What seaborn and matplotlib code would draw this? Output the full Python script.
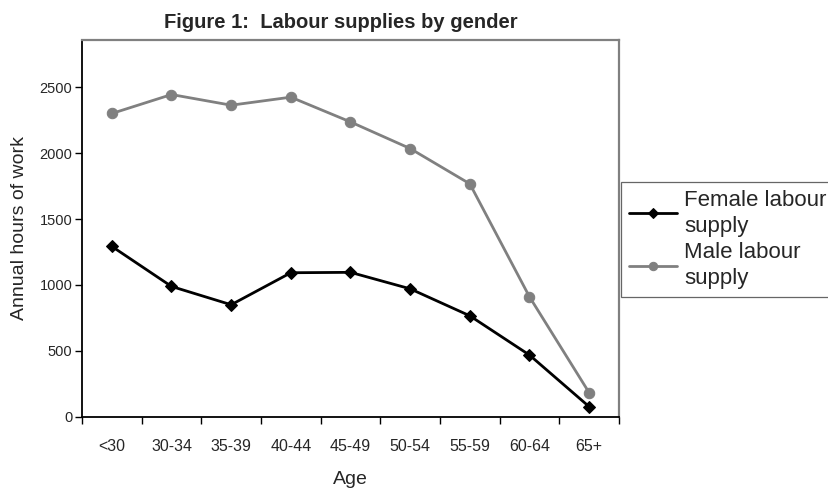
import matplotlib
matplotlib.use('Agg')
import matplotlib.pyplot as plt
import seaborn as sns
import pandas as pd

ages = ['<30', '30-34', '35-39', '40-44', '45-49', '50-54', '55-59', '60-64', '65+']
female = [1293, 989, 850, 1093, 1096, 971, 766, 468, 76]
male = [2302, 2446, 2365, 2426, 2238, 2036, 1768, 910, 182]
y_ticks = [0, 500, 1000, 1500, 2000, 2500]

sns.set_theme(style='white')
plt.rcParams['font.family'] = ['Liberation Sans', 'DejaVu Sans']

df = pd.DataFrame({'age': ages, 'female': female, 'male': male})

fig = plt.figure(figsize=(8.29, 4.92), dpi=100)
ax = fig.add_axes([82 / 829, 1 - 416.7 / 492, (619 - 82) / 829, (416.7 - 40) / 492])

sns.lineplot(data=df, x='age', y='female', ax=ax, color='black', lw=2,
             marker='D', markersize=6.5, markeredgecolor='black',
             label='Female labour\nsupply', sort=False)
sns.lineplot(data=df, x='age', y='male', ax=ax, color='#808080', lw=2,
             marker='o', markersize=7.5, markeredgecolor='#808080',
             label='Male labour\nsupply', sort=False)

ax.set_xlim(-0.5, len(ages) - 0.5)
ax.set_ylim(0, 2860)

# ticks sit between categories, labels in the middle
ax.set_xticks([i - 0.5 for i in range(len(ages) + 1)])
ax.set_xticklabels([])
ax.set_xticks(range(len(ages)), minor=True)
ax.set_xticklabels(ages, minor=True, fontsize=11.5)
ax.tick_params(axis='x', which='major', direction='out', length=5, width=1, color='black', bottom=True)
ax.tick_params(axis='x', which='minor', length=0, pad=16)

ax.set_yticks(y_ticks)
ax.set_yticklabels([str(v) for v in y_ticks], fontsize=10.5)
ax.tick_params(axis='y', direction='out', length=5, width=1, color='black', left=True, pad=2)

for s in ['left', 'bottom']:
    ax.spines[s].set_color('black')
    ax.spines[s].set_linewidth(1.3)
for s in ['top', 'right']:
    ax.spines[s].set_color('#808080')
    ax.spines[s].set_linewidth(1.6)

ax.set_xlabel('Age', fontsize=14, labelpad=12)
ax.set_ylabel('Annual hours of work', fontsize=14, labelpad=8)
fig.text(341 / 829, 1 - 22 / 492, 'Figure 1:  Labour supplies by gender',
         ha='center', va='center', fontsize=14.5, fontweight='bold')

handles, labels = ax.get_legend_handles_labels()
leg = ax.legend(handles, labels, loc='upper left',
                bbox_to_anchor=(621 / 829, 1 - 182 / 492), bbox_transform=fig.transFigure,
                fontsize=16, frameon=True, fancybox=False, handlelength=2.15,
                handletextpad=0.35, borderpad=0.35, borderaxespad=0, labelspacing=0.25,
                markerscale=0.8)
for t in leg.get_texts():
    t.set_linespacing(1.3)
leg.get_frame().set_edgecolor('#404040')
leg.get_frame().set_linewidth(0.9)

fig.savefig('out.png', dpi=100)
